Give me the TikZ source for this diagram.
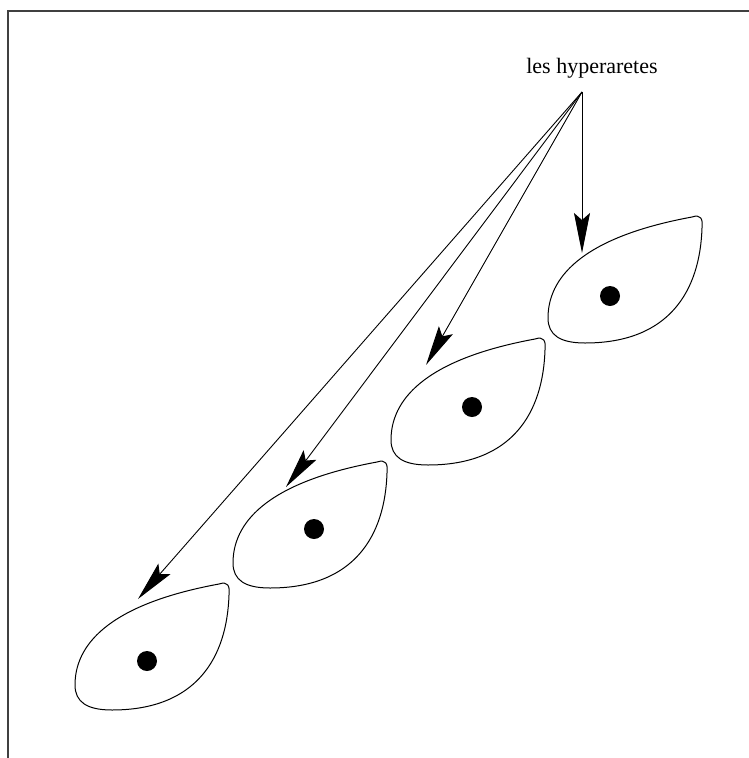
\documentclass[tikz,border=0pt]{standalone}
\usepackage{fontspec}
\setmainfont{Liberation Serif}
\usetikzlibrary{arrows.meta}
\tikzset{
  frame/.style={draw=black!75, line width=1.3pt},
  leaf/.style={draw=black, line width=1pt},
  seed/.style={circle, fill=black, inner sep=0pt, minimum size=20pt},
  arrow/.style={-{Stealth[length=40pt, width=16pt, inset=7pt]}, line width=0.9pt},
  lbl/.style={inner sep=0pt, anchor=base, font=\fontsize{22}{26}\selectfont}
}

\begin{document}
\begin{tikzpicture}[x=1pt, y=-1pt]
\useasboundingbox (0,0) rectangle (749,758);
\draw[frame] (749,11) -- (8,11) -- (8,758);
\node[lbl] (title) at (592,73) {les hyperaretes};
% the four hyperedges
\foreach \dx/\dy in {0/0, -157/122, -315/245, -473/367}
  \draw[leaf, shift={(\dx,\dy)}] (548,318) .. controls (548,280) and (578,238) .. (692,217)
    .. controls (701,214) and (703,219) .. (702,228)
    .. controls (700,290) and (670,343) .. (585,343)
    .. controls (560,343) and (548,335) .. (548,318) -- cycle;
\node[seed] (seed-d) at (610,296) {};
\node[seed] (seed-c) at (472,407) {};
\node[seed] (seed-b) at (314,529) {};
\node[seed] (seed-a) at (147,661) {};
\coordinate (hub) at (582,92);
\coordinate (tip-d) at (582,253);
\coordinate (tip-c) at (426,365);
\coordinate (tip-b) at (286,487);
\coordinate (tip-a) at (138,599);
\foreach \n in {a,b,c,d} \draw[arrow] (hub) -- (tip-\n);
\end{tikzpicture}
\end{document}
